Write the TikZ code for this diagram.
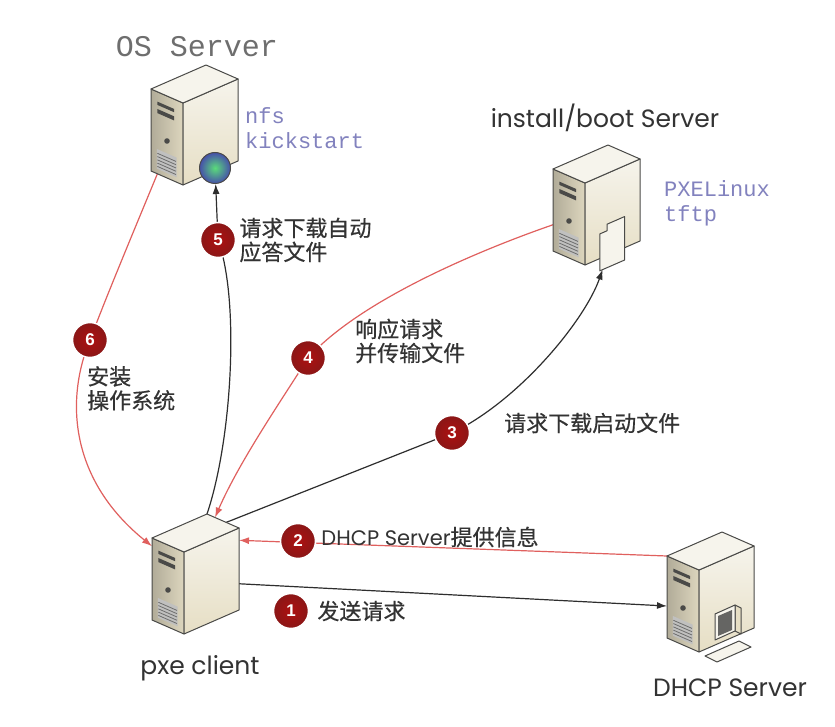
\documentclass[tikz,border=0pt]{standalone}
\usepackage{fontspec}
\usepackage{tikz}
\usetikzlibrary{arrows.meta, calc, positioning}
\newfontfamily\cjk[FakeBold=0.5]{Noto Sans CJK SC}
\newfontfamily\gothic{Poppins}
\newfontfamily\mono{Liberation Mono}
\newfontfamily\badgefont{Liberation Sans}

\definecolor{srvline}{HTML}{4A4A48}
\definecolor{srvfront}{HTML}{DDD6BE}
\definecolor{srvside}{HTML}{E6DEC4}
\definecolor{srvtop}{HTML}{F6F4EC}
\definecolor{badgered}{HTML}{8A1717}
\definecolor{redline}{HTML}{E0605E}
\definecolor{blackline}{HTML}{2E2E2E}
\definecolor{txt}{HTML}{333333}
\definecolor{osgray}{HTML}{6E6E6E}
\definecolor{notecol}{HTML}{8282BE}
\definecolor{globein}{HTML}{5ADC7A}
\definecolor{globeout}{HTML}{4650AA}

\pgfdeclarelayer{bg}
\pgfdeclarelayer{links}
\pgfsetlayers{bg,links,main}

\tikzset{
  server/.pic={
    % front face
    \shadedraw[draw=srvline, line width=1pt, line join=round, left color=srvfront!80!black, right color=srvfront]
      (0,0) -- (-32,-14) -- (-32,-96) -- (0,-82) -- cycle;
    % side face
    \shadedraw[draw=srvline, line width=1pt, line join=round, top color=srvtop, bottom color=srvside]
      (0,0) -- (55,-24) -- (55,-106) -- (0,-82) -- cycle;
    % top face
    \filldraw[draw=srvline, line width=1pt, line join=round, fill=srvtop]
      (0,-82) -- (-32,-96) -- (23,-120) -- (55,-106) -- cycle;
    \begin{scope}[shift={(-32,-14)}, x={(32pt,-14pt)}, y={(0pt,82pt)}]
      \fill[srvline] (0.2,0.74) -- (0.72,0.74) -- (0.72,0.79) -- (0.2,0.79) -- cycle;
      \fill[srvline] (0.2,0.84) -- (0.72,0.84) -- (0.72,0.88) -- (0.2,0.88) -- cycle;
      \fill[srvline!35] (0.18,0.06) -- (0.8,0.06) -- (0.8,0.3) -- (0.18,0.3) -- cycle;
      \foreach \v in {0.09,0.13,...,0.28}
        \draw[srvline!80, line width=0.8pt] (0.2,\v) -- (0.78,\v);
    \end{scope}
    \fill[srvline] (-16,-44) circle (2.8);
    \coordinate (-base) at (0,0);
    \coordinate (-lb) at (-32,-14);
    \coordinate (-lt) at (-32,-96);
    \coordinate (-ft) at (0,-82);
    \coordinate (-rb) at (55,-24);
    \coordinate (-rt) at (55,-106);
    \coordinate (-top) at (23,-120);
  },
  bootcard/.pic={
    \begin{scope}[x={(55pt,24pt)}, y={(0pt,82pt)}]
      \filldraw[fill=srvtop, draw=srvline, line width=1pt, line join=round]
        (0.27,-0.15) -- (0.27,0.30) -- (0.40,0.30) -- (0.40,0.38) -- (0.72,0.38) -- (0.72,-0.15) -- cycle;
      \coordinate (-tip) at (0.32,-0.15);
    \end{scope}
  },
  terminal/.pic={
    \filldraw[fill=srvtop, draw=srvline, line width=1pt, line join=round]
      (6,4) -- (40,-11) -- (52,-5) -- (18,10) -- cycle;
    \filldraw[fill=srvside, draw=srvline, line width=1pt, line join=round]
      (36,-21) -- (42,-18) -- (42,-44) -- (36,-47) -- cycle;
    \filldraw[fill=srvtop, draw=srvline, line width=1pt, line join=round]
      (16,-12) -- (36,-21) -- (36,-47) -- (16,-38) -- cycle;
    \fill[srvline!85] (19,-16) -- (33,-22) -- (33,-42) -- (19,-36) -- cycle;
  }
}

\begin{document}
\begin{tikzpicture}[x=1pt, y=-1pt,
    srvname/.style={font=\gothic\fontsize{25}{25}\selectfont, text=txt},
    srvnote/.style={font=\mono\fontsize{22}{25}\selectfont, text=notecol, align=left, inner sep=0pt},
    lbl/.style={font=\cjk\fontsize{22}{24}\selectfont, text=txt, align=left, inner sep=0pt},
    badge/.style={circle, inner sep=0pt, minimum size=35pt, inner color=badgered!70!red, outer color=badgered,
      draw=white, line width=1.5pt, text=white, font=\badgefont\bfseries\fontsize{17}{17}\selectfont},
    globe/.style={circle, inner sep=0pt, minimum size=31pt, draw=srvline, line width=1pt,
      inner color=globein, outer color=globeout},
    blk/.style={draw=blackline, line width=1.2pt},
    rd/.style={draw=redline, line width=1.2pt},
    arrowed/.style={-{Latex[length=10pt, width=7pt]}}
  ]
  \begin{pgfonlayer}{bg}
    \fill[white] (0,0) rectangle (835,727);
  \end{pgfonlayer}
  \useasboundingbox (0,0) rectangle (835,727);

  % servers
  \pic (os) at (183,185) {server};
  \pic (boot) at (585,265) {server};
  \pic (pxe) at (184,634) {server};
  \pic (dhcp) at (699,652) {server};
  \pic (card) at (boot-base) {bootcard};
  \pic at (dhcp-base) {terminal};
  \node[globe] (globe) at (215,168) {};

  \node[srvname, font=\mono\fontsize{30}{30}\selectfont, text=osgray] (os-name) at (197,47) {OS Server};
  \node[srvname] (boot-name) at (605,118) {install/boot Server};
  \node[srvname] (pxe-name) at (200,668) {pxe client};
  \node[srvname] (dhcp-name) at (730,688) {DHCP Server};
  \node[srvnote, anchor=west] (os-note) at (245,128) {nfs\\kickstart};
  \node[srvnote, anchor=west] (boot-note) at (664,203) {PXELinux\\tftp};

  % steps
  \node[badge] (b1) at (291,611) {1};
  \node[badge] (b2) at (298,541) {2};
  \node[badge] (b3) at (452,433) {3};
  \node[badge] (b4) at (308,358) {4};
  \node[badge] (b5) at (218,240) {5};
  \node[badge] (b6) at (90,340) {6};

  \node[lbl, right=8pt of b1] (l1) {发送请求};
  \node[lbl, right=5pt of b2, yshift=4pt] (l2) {{\gothic\fontsize{21}{24}\selectfont DHCP Server}提供信息};
  \node[lbl, anchor=west] (l3) at (504,423) {请求下载启动文件};
  \node[lbl, anchor=west] (l4) at (355,341) {响应请求\\并传输文件};
  \node[lbl, right=3pt of b5] (l5) {请求下载自动\\应答文件};
  \node[lbl, anchor=north west] (l6) at (87,366) {安装\\操作系统};

  \begin{pgfonlayer}{links}
    \draw[blk, arrowed] ($(pxe-rb)!0.32!(pxe-rt)$) -- ($(dhcp-lb)!0.39!(dhcp-lt)$);
    \draw[rd, arrowed] (dhcp-lt) -- ($(pxe-rb)!0.85!(pxe-rt)$);
    \draw[blk, arrowed] ($(pxe-top)!0.6!(pxe-rt)$) -- (b3.center)
      .. controls (520,400) and (585,320) .. (card-tip);
    \draw[rd, arrowed] ($(boot-lb)!0.32!(boot-lt)$) .. controls (480,250) and (360,300) .. (b4.center)
      .. controls (285,395) and (240,460) .. ($(pxe-top)!0.25!(pxe-rt)$);
    \draw[blk, arrowed] (pxe-top) .. controls (232,440) and (240,300) .. (b5.center) -- (globe);
    \draw[rd, arrowed] ($(os-lb)!0.2!(os-base)$) .. controls (130,240) and (105,300) .. (b6.center)
      .. controls (65,400) and (70,480) .. ($(pxe-lt)!0.1!(pxe-lb)$);
  \end{pgfonlayer}
\end{tikzpicture}
\end{document}
